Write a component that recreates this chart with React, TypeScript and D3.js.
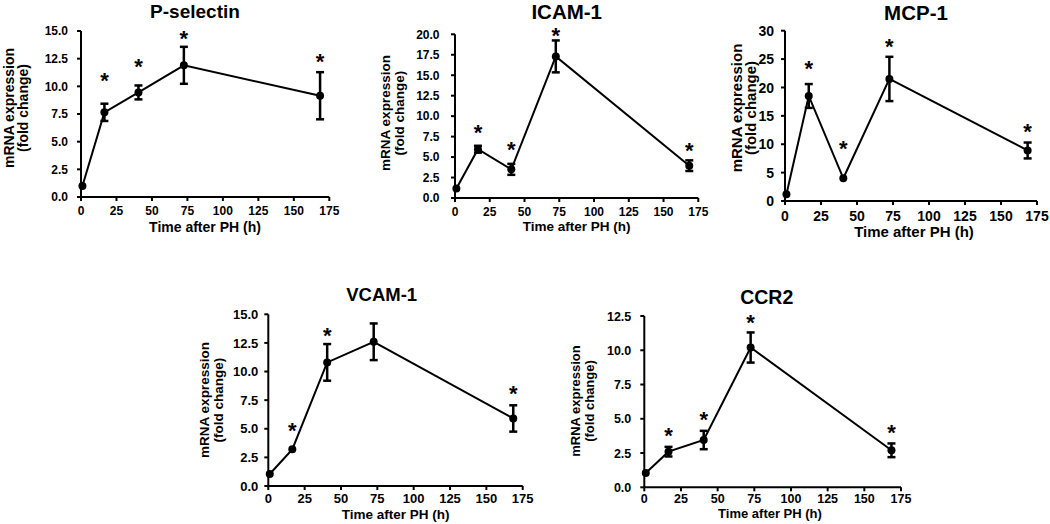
import React from 'react';
import * as d3 from 'd3';

// ---------- data ----------
const TIMES = [1, 16.5, 40.5, 72.5, 168.5];
const X_TICKS = [0, 25, 50, 75, 100, 125, 150, 175];

const PSEL_MEAN = [1.0, 7.65, 9.45, 11.9, 9.15];
const PSEL_ERR = [0, 0.78, 0.63, 1.67, 2.13];
const PSEL_STAR = [null, 11.0, 12.3, 14.8, 12.7];
const PSEL_YTICKS = [0, 2.5, 5, 7.5, 10, 12.5, 15];

const ICAM_MEAN = [1.15, 5.96, 3.5, 17.3, 3.95];
const ICAM_ERR = [0, 0.42, 0.67, 1.95, 0.65];
const ICAM_STAR = [null, 8.7, 6.6, 20.5, 6.4];
const ICAM_YTICKS = [0, 2.5, 5, 7.5, 10, 12.5, 15, 17.5, 20];

const MCP_MEAN = [1.2, 18.5, 4.0, 21.5, 8.9];
const MCP_ERR = [0, 2.1, 0, 3.9, 1.4];
const MCP_STAR = [null, 24.3, 10.2, 28.2, 13.1];
const MCP_YTICKS = [0, 5, 10, 15, 20, 25, 30];

const VCAM_MEAN = [1.05, 3.2, 10.8, 12.6, 5.9];
const VCAM_ERR = [0, 0, 1.6, 1.6, 1.15];
const VCAM_STAR = [null, 5.3, 13.6, null, 8.5];
const VCAM_YTICKS = [0, 2.5, 5, 7.5, 10, 12.5, 15];

const CCR2_MEAN = [1.05, 2.6, 3.45, 10.2, 2.7];
const CCR2_ERR = [0, 0.35, 0.67, 1.1, 0.5];
const CCR2_STAR = [null, 4.2, 5.3, 12.4, 4.4];
const CCR2_YTICKS = [0, 2.5, 5, 7.5, 10, 12.5];

// ---------- layout ----------
const FONT = '"Liberation Sans", Arial, Helvetica, sans-serif';

const PANELS = [
  {
    title: 'P-selectin', mean: PSEL_MEAN, err: PSEL_ERR, star: PSEL_STAR, yTicks: PSEL_YTICKS, fmt: '.1f',
    L: { x0: 81, x1: 329.3, yTop: 31, yBot: 197, titleX: 195, titleY: 18, titleFs: 19, tickFs: 12, labFs: 14,
      yLab1X: 9, yLab2X: 22.5, yLabY: 108, xLabX: 205, xLabY: 232, yPad: 9, xDy: 18 },
  },
  {
    title: 'ICAM-1', mean: ICAM_MEAN, err: ICAM_ERR, star: ICAM_STAR, yTicks: ICAM_YTICKS, fmt: '.1f',
    L: { x0: 455, x1: 698.3, yTop: 34.3, yBot: 198, titleX: 566.7, titleY: 19, titleFs: 20.5, tickFs: 12, labFs: 13.5,
      yLab1X: 385.5, yLab2X: 399.5, yLabY: 113, xLabX: 576.7, xLabY: 230.5, yPad: 11.5, xDy: 17.5 },
  },
  {
    title: 'MCP-1', mean: MCP_MEAN, err: MCP_ERR, star: MCP_STAR, yTicks: MCP_YTICKS, fmt: 'd',
    L: { x0: 785, x1: 1037, yTop: 30.7, yBot: 201, titleX: 916, titleY: 20, titleFs: 20.5, tickFs: 14, labFs: 15,
      yLab1X: 736.7, yLab2X: 751, yLabY: 108, xLabX: 914, xLabY: 237, yPad: 7, xDy: 20 },
  },
  {
    title: 'VCAM-1', mean: VCAM_MEAN, err: VCAM_ERR, star: VCAM_STAR, yTicks: VCAM_YTICKS, fmt: '.1f',
    L: { x0: 268.3, x1: 522.7, yTop: 314.3, yBot: 486, titleX: 381.7, titleY: 300.7, titleFs: 18.5, tickFs: 13, labFs: 13.5,
      yLab1X: 204, yLab2X: 218, yLabY: 400, xLabX: 395.7, xLabY: 519, yPad: 6, xDy: 17.3 },
  },
  {
    title: 'CCR2', mean: CCR2_MEAN, err: CCR2_ERR, star: CCR2_STAR, yTicks: CCR2_YTICKS, fmt: '.1f',
    L: { x0: 644.3, x1: 901, yTop: 316, yBot: 487.3, titleX: 766.7, titleY: 304, titleFs: 19.5, tickFs: 12.5, labFs: 13,
      yLab1X: 575, yLab2X: 589, yLabY: 401, xLabX: 770, xLabY: 517.5, yPad: 9, xDy: 15.5 },
  },
];

function Panel({ p }: { p: any }) {
  const L = p.L;
  const x = d3.scaleLinear().domain([0, 175]).range([L.x0, L.x1]);
  const yMax = p.yTicks[p.yTicks.length - 1];
  const y = d3.scaleLinear().domain([0, yMax]).range([L.yBot, L.yTop]);
  const fmt = d3.format(p.fmt);
  const line = d3.line<number>().x((_, i) => x(TIMES[i])).y((d) => y(d));
  const tick = 4;
  const cap = 4;
  const starFs = 22;
  return (
    <g fontFamily={FONT} fontWeight="bold" fill="#000">
      <text x={L.titleX} y={L.titleY} textAnchor="middle" fontSize={L.titleFs}>{p.title}</text>
      {/* axes */}
      <line x1={L.x0} x2={L.x0} y1={L.yTop} y2={L.yBot} stroke="#000" strokeWidth={2} />
      <line x1={L.x0} x2={L.x1} y1={L.yBot} y2={L.yBot} stroke="#000" strokeWidth={2} />
      {p.yTicks.map((t: number) => (
        <g key={'y' + t}>
          <line x1={L.x0 - tick} x2={L.x0} y1={y(t)} y2={y(t)} stroke="#000" strokeWidth={2} />
          <text x={L.x0 - tick - L.yPad} y={y(t)} dy="0.36em" textAnchor="end" fontSize={L.tickFs}>{fmt(t)}</text>
        </g>
      ))}
      {X_TICKS.map((t) => (
        <g key={'x' + t}>
          <line x1={x(t)} x2={x(t)} y1={L.yBot} y2={L.yBot + tick} stroke="#000" strokeWidth={2} />
          <text x={x(t)} y={L.yBot + L.xDy} textAnchor="middle" fontSize={L.tickFs}>{t}</text>
        </g>
      ))}
      <text x={L.xLabX} y={L.xLabY} textAnchor="middle" fontSize={L.labFs}>Time after PH (h)</text>
      <text transform={`translate(${L.yLab1X},${L.yLabY}) rotate(-90)`} dy="0.36em" textAnchor="middle" fontSize={L.labFs}>mRNA expression</text>
      <text transform={`translate(${L.yLab2X},${L.yLabY}) rotate(-90)`} dy="0.36em" textAnchor="middle" fontSize={L.labFs}>(fold change)</text>
      {/* data line */}
      <path d={line(p.mean) || ''} fill="none" stroke="#000" strokeWidth={2} />
      {/* error bars */}
      {p.mean.map((m: number, i: number) => {
        const e = p.err[i];
        if (!e) return null;
        const cx = x(TIMES[i]);
        return (
          <g key={'e' + i} stroke="#000" strokeWidth={2.5}>
            <line x1={cx} x2={cx} y1={y(m + e)} y2={y(m - e)} />
            <line x1={cx - cap} x2={cx + cap} y1={y(m + e)} y2={y(m + e)} />
            <line x1={cx - cap} x2={cx + cap} y1={y(m - e)} y2={y(m - e)} />
          </g>
        );
      })}
      {p.mean.map((m: number, i: number) => (
        <circle key={'c' + i} cx={x(TIMES[i])} cy={y(m)} r={4} fill="#000" />
      ))}
      {p.star.map((s: number | null, i: number) =>
        s == null ? null : (
          <text key={'s' + i} x={x(TIMES[i])} y={y(s) + 0.58 * starFs} textAnchor="middle" fontSize={starFs}>*</text>
        )
      )}
    </g>
  );
}

export default function App() {
  return (
    <div style={{ position: 'absolute', left: 0, top: 0, width: 1050, height: 524, background: '#fff' }}>
      <svg width={1050} height={524} style={{ display: 'block' }}>
        <rect width={1050} height={524} fill="#fff" />
        {PANELS.map((p) => (
          <Panel key={p.title} p={p} />
        ))}
      </svg>
    </div>
  );
}
